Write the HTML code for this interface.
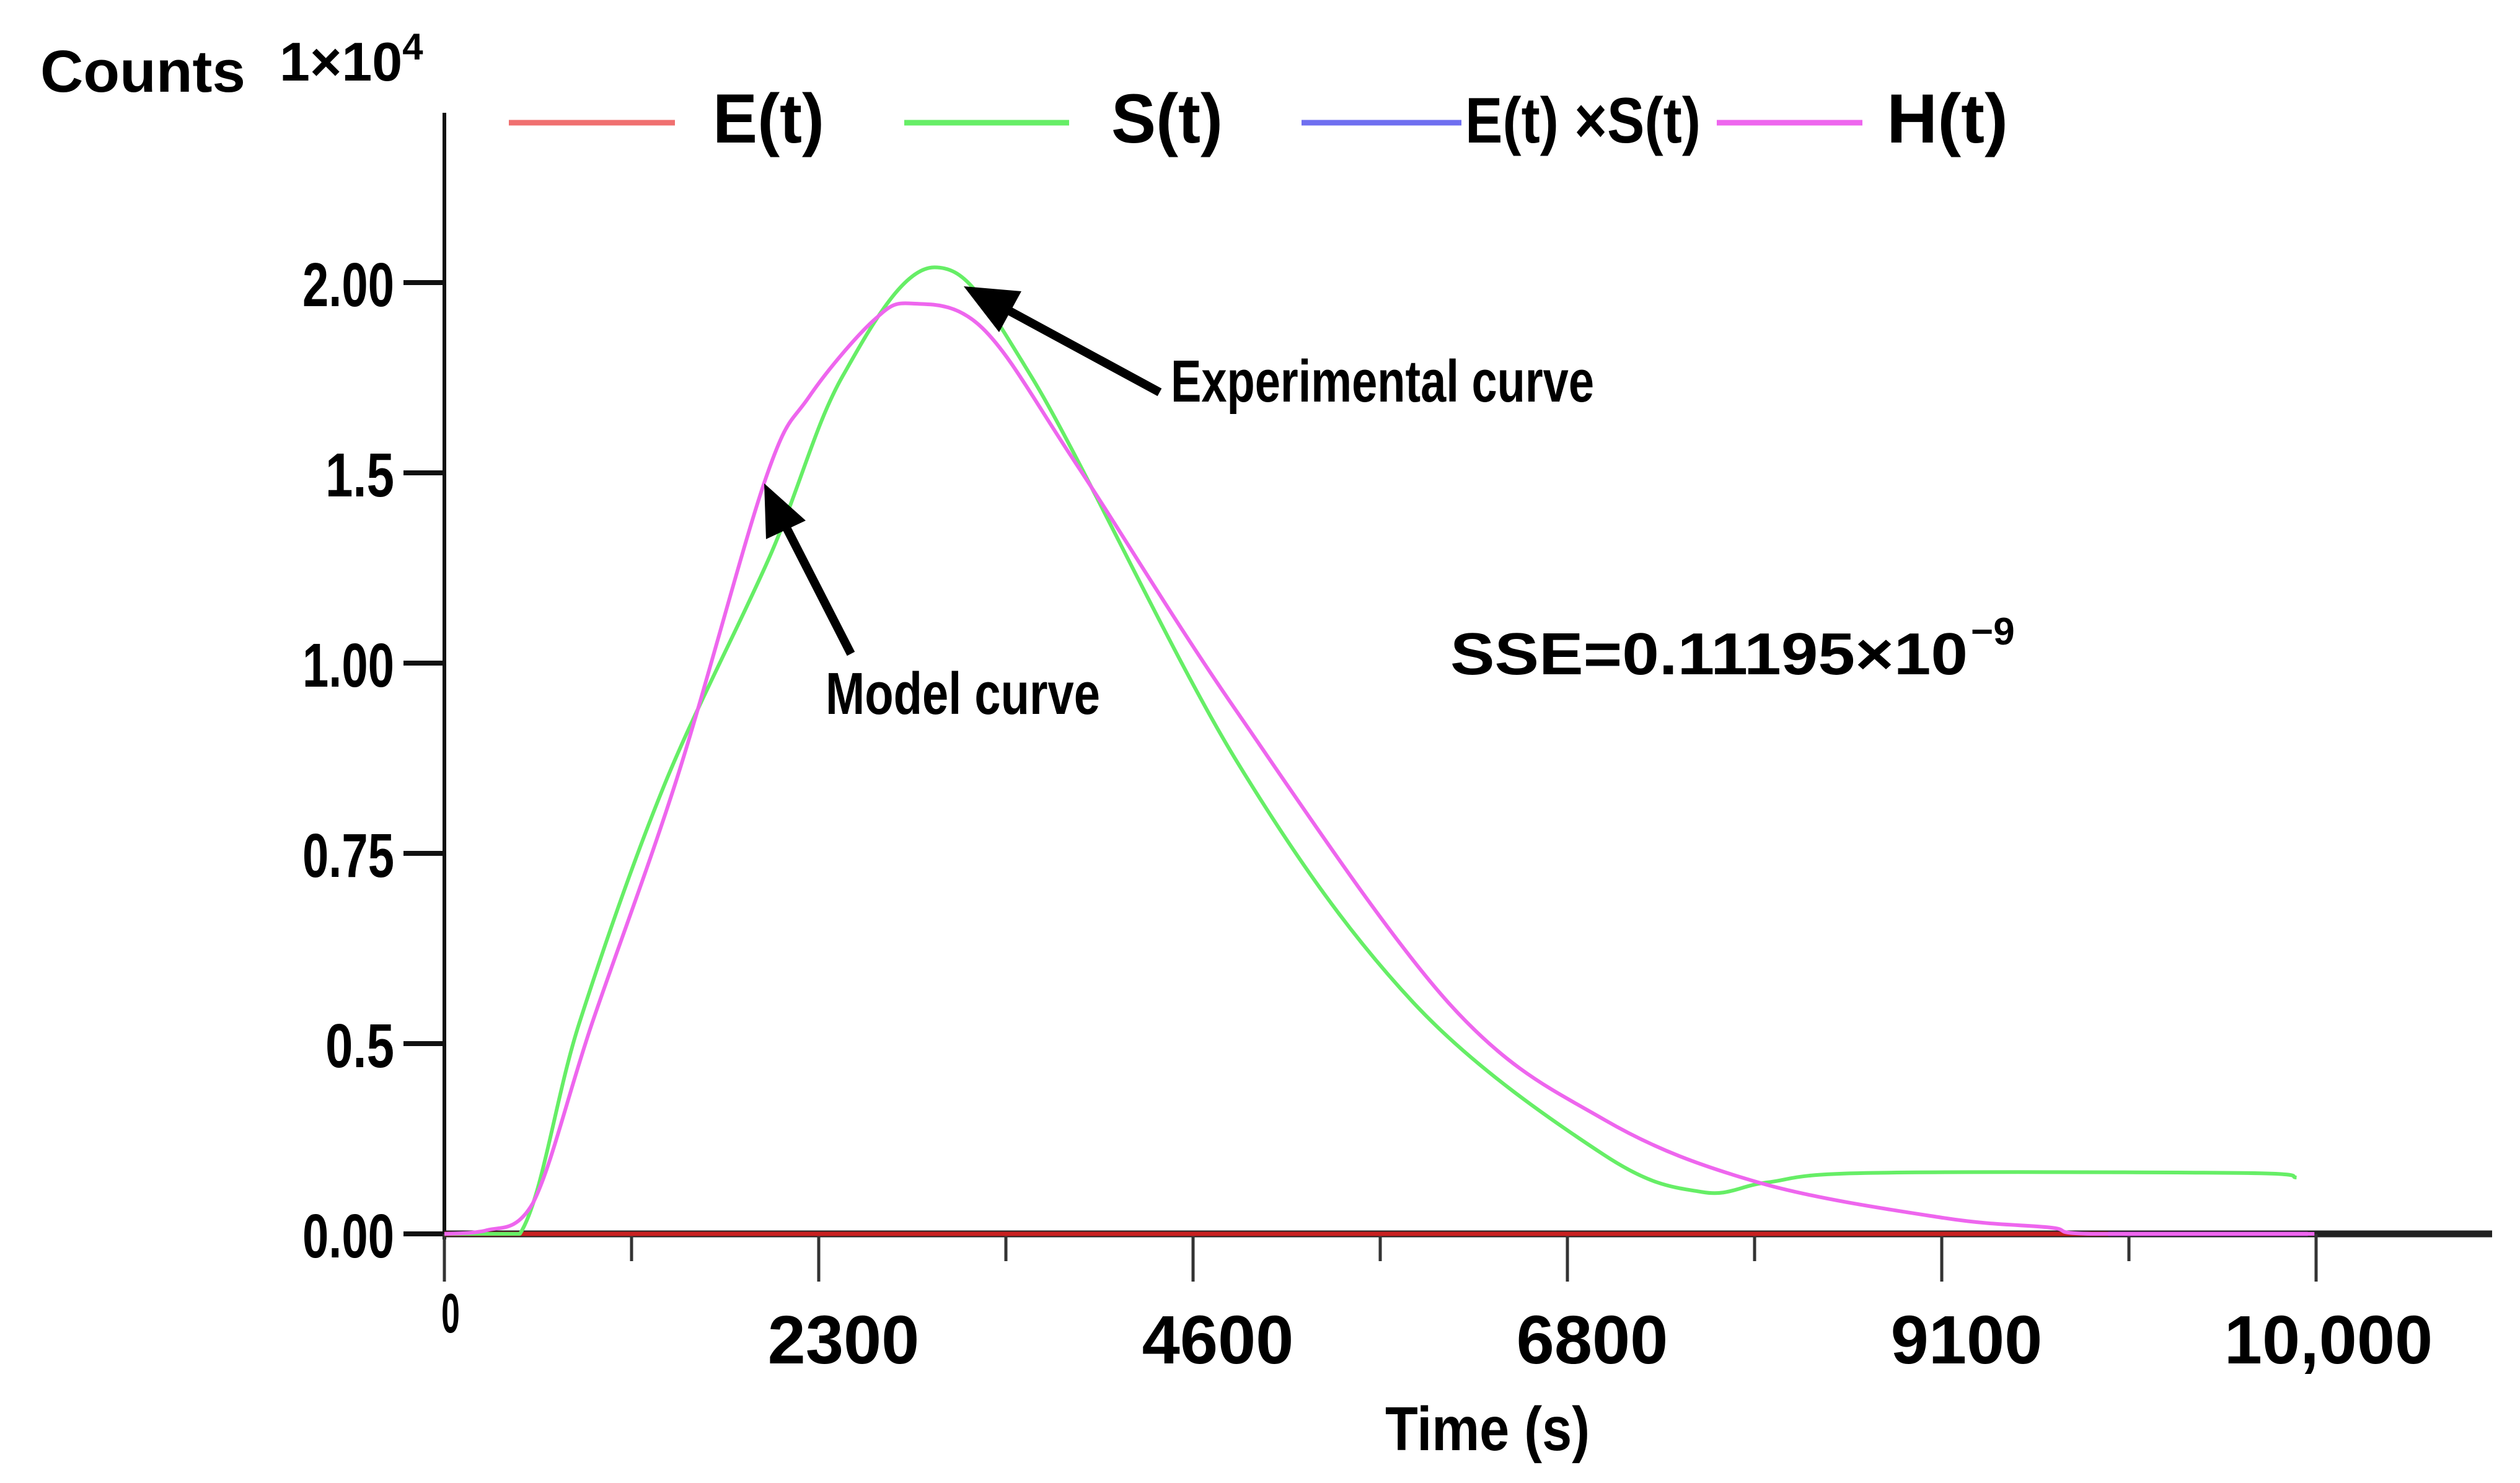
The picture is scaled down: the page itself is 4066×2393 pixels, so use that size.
<!DOCTYPE html>
<html><head><meta charset="utf-8"><style>
html,body{margin:0;padding:0;background:#fff;}
svg{display:block;}
text{font-family:"Liberation Sans",sans-serif;font-weight:bold;fill:#000;}
</style></head><body>
<svg id="chart" width="4066" height="2393" viewBox="0 0 4066 2393" xmlns="http://www.w3.org/2000/svg">
<g id="axes"></g>
<g id="series"></g>
<g>
  <line x1="821" y1="198" x2="1089" y2="198" stroke="#f07070" stroke-width="9"/>
  <text x="1150" y="230" font-size="112" textLength="180" lengthAdjust="spacingAndGlyphs">E(t)</text>
  <line x1="1459" y1="198" x2="1725" y2="198" stroke="#66ee66" stroke-width="9"/>
  <text x="1793" y="230" font-size="112" textLength="180" lengthAdjust="spacingAndGlyphs">S(t)</text>
  <line x1="2100" y1="198" x2="2358" y2="198" stroke="#6f6ff0" stroke-width="9"/>
  <text x="2364" y="230" font-size="104" textLength="380" lengthAdjust="spacingAndGlyphs">E(t) ×S(t)</text>
  <line x1="2770" y1="198" x2="3005" y2="198" stroke="#ee66ee" stroke-width="9"/>
  <text x="3044" y="230" font-size="112" textLength="196" lengthAdjust="spacingAndGlyphs">H(t)</text>
</g>
<text x="65" y="148" font-size="96" textLength="331" lengthAdjust="spacingAndGlyphs">Counts</text>
<text x="451" y="130" font-size="88">1×10<tspan font-size="60" dy="-34">4</tspan></text>
<text x="2400" y="2340" font-size="100" text-anchor="middle" textLength="330" lengthAdjust="spacingAndGlyphs">Time (s)</text>
<text x="1889" y="648" font-size="96" textLength="683" lengthAdjust="spacingAndGlyphs">Experimental curve</text>
<text x="1332" y="1152" font-size="96" textLength="443" lengthAdjust="spacingAndGlyphs">Model curve</text>
<text x="2340" y="1088" font-size="96" textLength="835" lengthAdjust="spacingAndGlyphs">SSE=0.11195×10</text>
<text x="3180" y="1040" font-size="62">−9</text>
<g>
  <line x1="1871" y1="633" x2="1620" y2="497" stroke="#000" stroke-width="14"/>
  <polygon points="1555,462 1648,470 1612,536" fill="#000"/>
</g>
<g>
  <line x1="1373" y1="1055" x2="1262" y2="838" stroke="#000" stroke-width="14"/>
  <polygon points="1233,780 1300,840 1236,870" fill="#000"/>
</g>
</svg>
<script>
const xTickVals = [0, 2300, 4600, 6800, 9100, 10000];
const xTickLabels = ["0", "2300", "4600", "6800", "9100", "10,000"];
const yTickVals = [0, 0.5, 0.75, 1.0, 1.5, 2.0];
const yTickLabels = ["0.00", "0.5", "0.75", "1.00", "1.5", "2.00"];
const hTime = [0, 247, 543, 908, 1431, 1974, 2241, 2636, 2873, 3307, 3880, 4846, 6100, 7027, 7975, 9104, 9359, 9460, 9996];
const hVal  = [0, 0.008, 0.08, 0.527, 0.85, 1.485, 1.70, 1.90, 1.945, 1.88, 1.525, 0.94, 0.554, 0.30, 0.135, 0.042, 0.017, 0, 0];
const sTime = [0, 464, 829, 1352, 2004, 2448, 3011, 3604, 4846, 5894, 7027, 7629, 8024, 8636, 9818, 9953];
const sVal  = [0, 0, 0.527, 0.84, 1.285, 1.755, 2.04, 1.755, 0.875, 0.554, 0.207, 0.11, 0.135, 0.16, 0.16, 0.148];
const eTime = [0, 9500];
const eVal  = [0, 0];
const esTime = [9500, 9650, 9980];
const esVal  = [0, 0, 0];

const X0 = 717, XSTEP = 604, Y0 = 1991, YSTEP = 307;
function piece(v, ticks) {
  for (let i = 0; i < ticks.length - 1; i++) {
    if (v <= ticks[i + 1] || i === ticks.length - 2) {
      return i + (v - ticks[i]) / (ticks[i + 1] - ticks[i]);
    }
  }
  return 0;
}
function xs(t) { return X0 + piece(t, xTickVals) * XSTEP; }
function ys(v) { return Y0 - piece(v, yTickVals) * YSTEP; }

const NS = "http://www.w3.org/2000/svg";
const axes = document.getElementById("axes");
const series = document.getElementById("series");
function mk(tag, attrs, parent) {
  const el = document.createElementNS(NS, tag);
  for (const k in attrs) el.setAttribute(k, attrs[k]);
  parent.appendChild(el);
  return el;
}
let yl = mk("line", {x1: X0, y1: 182, x2: X0, y2: 2000, stroke: "#111", "stroke-width": 6}, axes);


yTickVals.forEach((v, i) => {
  const y = ys(v);
  const tk = mk("line", {x1: 651, y1: y, x2: X0, y2: y, stroke: "#111", "stroke-width": 8}, axes);
  
  
  const tx = mk("text", {x: 636, y: y + 38, "font-size": 100, "text-anchor": "end", textLength: yTickLabels[i].length * 37, lengthAdjust: "spacingAndGlyphs"}, axes);
  tx.textContent = yTickLabels[i];
  
  
});
let xl = mk("line", {x1: X0, y1: Y0, x2: 4021, y2: Y0, stroke: "#222", "stroke-width": 11}, axes);


xTickVals.forEach((v, i) => {
  const x = xs(v);
  const tk = mk("line", {x1: x, y1: Y0, x2: x, y2: 2068, stroke: "#333", "stroke-width": 5}, axes);
  
  
  if (i < xTickVals.length - 1) {
    const mx = (x + xs(xTickVals[i + 1])) / 2;
    const mt = mk("line", {x1: mx, y1: Y0, x2: mx, y2: 2035, stroke: "#333", "stroke-width": 5}, axes);
    
    
  }
  const tx = mk("text", i === 0
    ? {x: x + 10, y: 2150, "font-size": 90, "text-anchor": "middle", textLength: 30, lengthAdjust: "spacingAndGlyphs"}
    : {x: x + (i === 5 ? 20 : 40), y: 2200, "font-size": 110, "text-anchor": "middle"}, axes);
  tx.textContent = xTickLabels[i];
  
  
});
function smoothPath(p) {
  let d = "M" + p[0][0].toFixed(1) + "," + p[0][1].toFixed(1);
  for (let i = 0; i < p.length - 1; i++) {
    const p0 = p[i - 1] || p[i], p1 = p[i], p2 = p[i + 1], p3 = p[i + 2] || p[i + 1];
    const c1x = p1[0] + (p2[0] - p0[0]) / 6, c1y = p1[1] + (p2[1] - p0[1]) / 6;
    const c2x = p2[0] - (p3[0] - p1[0]) / 6, c2y = p2[1] - (p3[1] - p1[1]) / 6;
    d += " C" + c1x.toFixed(1) + "," + Math.min(c1y, Y0).toFixed(1) + " " + c2x.toFixed(1) + "," + Math.min(c2y, Y0).toFixed(1) + " " + p2[0].toFixed(1) + "," + p2[1].toFixed(1);
  }
  return d;
}
function line(times, vals, color, w) {
  const pts = times.map((t, i) => [xs(t), ys(vals[i])]);
  return mk("path", {d: smoothPath(pts), fill: "none", stroke: color, "stroke-width": w, "stroke-linejoin": "round"}, series);
}
const eLine = line(eTime, eVal, "#c82020", 7);


const esLine = line(esTime, esVal, "#9020b0", 7);


const sLine = line(sTime, sVal, "#66ee66", 6);


const hLine = line(hTime, hVal, "#ee66ee", 6);


</script>
</body></html>
